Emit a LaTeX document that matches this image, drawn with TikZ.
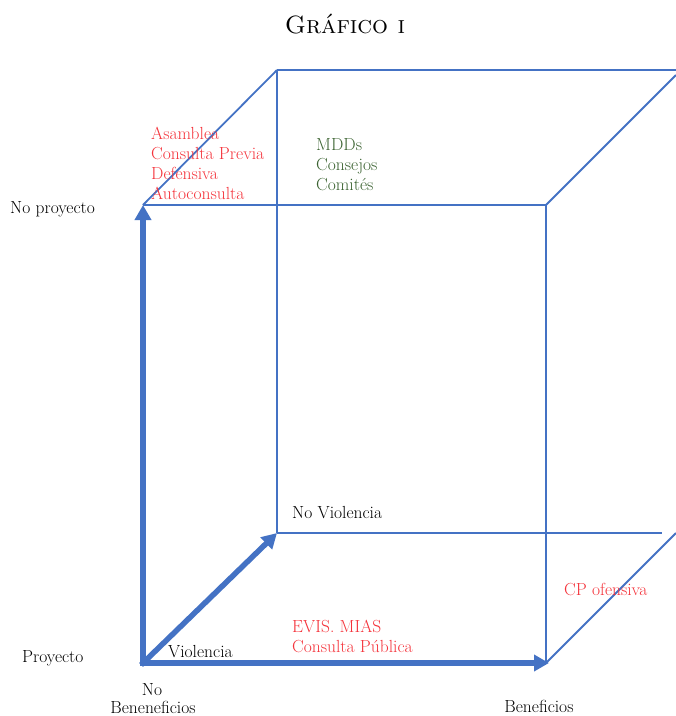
\documentclass[tikz,border=0pt]{standalone}
\usepackage{fontspec}
\usetikzlibrary{arrows.meta}
\definecolor{cubeblue}{RGB}{68,114,196}
\definecolor{txtred}{RGB}{245,50,58}
\definecolor{txtgreen}{RGB}{58,98,48}
\begin{document}
\begin{tikzpicture}[x=1pt,y=-1pt,
  edge/.style={draw=cubeblue,line width=1.8pt},
  axis/.style={draw=cubeblue,line width=5.5pt,line cap=rect,-{Triangle[length=15pt,width=16pt]}},
  lbl/.style={font=\fontsize{17.5}{20}\selectfont,inner sep=0pt,anchor=base west,text=black},
  redl/.style={lbl,text=txtred},
  greenl/.style={lbl,text=txtgreen},
  cl/.style={lbl,anchor=base}]
\useasboundingbox[fill=white] (0,0) rectangle (676,716);
% cube corners
\coordinate (O) at (143,663);
\coordinate (FTL) at (143,205);
\coordinate (FTR) at (546,205);
\coordinate (FBR) at (549,663);
\coordinate (FBRe) at (546,663);
\coordinate (BTL) at (277,70);
\coordinate (BBL) at (277,533);
\coordinate (BTRe) at (676,70);
\coordinate (BBRe) at (662,533);
\coordinate (DTR) at (676,75);
\coordinate (DBR) at (676,533);
% edges
\draw[edge] (FTL) -- (FTR);
\draw[edge] (FTR) -- (FBRe);
\draw[edge] (FTL) -- (BTL);
\draw[edge] (BTL) -- (BTRe);
\draw[edge] (BTL) -- (BBL);
\draw[edge] (BBL) -- (BBRe);
\draw[edge] (FTR) -- (DTR);
\draw[edge] (FBRe) -- (DBR);
% axes
\draw[axis] (O) -- (FTL);
\draw[axis] (O) -- (FBR);
\draw[axis] (O) -- (BBL);
% title
\node[inner sep=0pt,anchor=base,font=\fontsize{25}{30}\selectfont] (title) at (345,33) {\textsc{Gráfico i}};
% labels
\node[lbl] (noproy) at (10,213) {No proyecto};
\node[lbl] (proy) at (22,662) {Proyecto};
\node[cl] (no) at (152,695) {No};
\node[cl] (bnb) at (153,713) {Beneneficios};
\node[cl] (ben) at (539,712) {Beneficios};
\node[lbl] (viol) at (168,657) {Violencia};
\node[lbl] (noviol) at (292,518) {No Violencia};
\node[redl] (evis) at (292,632) {EVIS. MIAS};
\node[redl] (cpub) at (292,652) {Consulta Pública};
\node[redl] (cpof) at (564,595) {CP ofensiva};
\node[redl] (asam) at (151,139) {Asamblea};
\node[redl] (cprev) at (151,159) {Consulta Previa};
\node[redl] (def) at (151,179) {Defensiva};
\node[redl] (auto) at (151,199) {Autoconsulta};
\node[greenl] (mdd) at (316,150) {MDDs};
\node[greenl] (cons) at (316,170) {Consejos};
\node[greenl] (comi) at (316,190) {Comités};
\end{tikzpicture}
\end{document}
